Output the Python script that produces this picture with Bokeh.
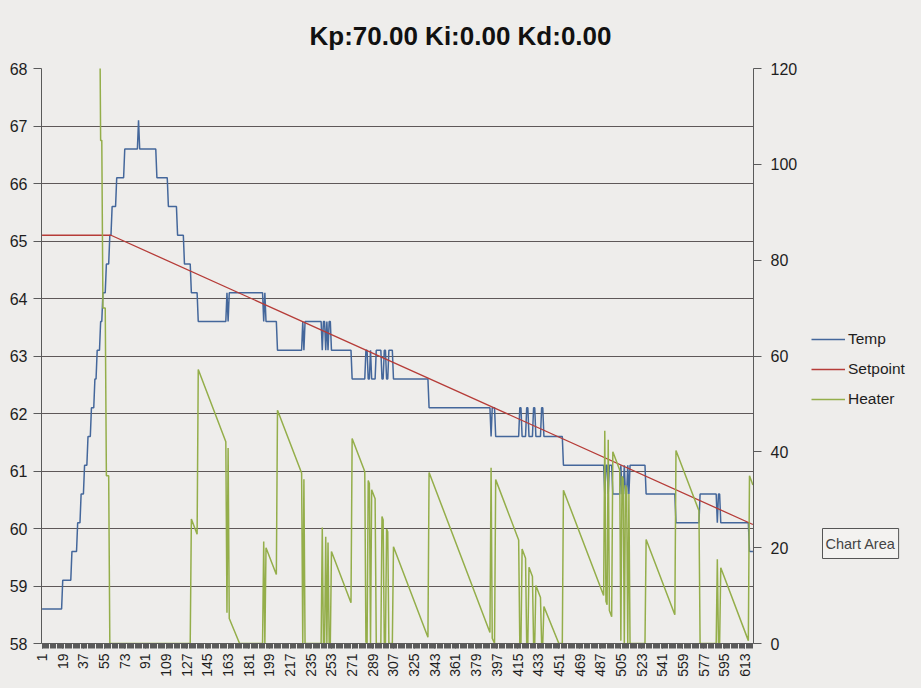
import math
from bokeh.plotting import figure
from bokeh.layouts import row
from bokeh.models import (Range1d, LinearAxis, FixedTicker, Legend, LegendItem,
                          Label, Title)
from bokeh.embed import file_html
from bokeh.resources import INLINE

# ---------------- data ----------------
N_SAMPLES = 620

# Temp: run-length encoded (first sample index of each run, value of the run)
temp_run_start = [1, 19, 27, 32, 35, 38, 41, 44, 47, 49, 52, 54, 57, 60, 62, 66, 73, 85, 86, 101,
                  111, 119, 125, 131, 137, 162, 163, 164, 194, 195, 196, 206, 228, 229, 230, 245, 246, 248, 249, 250,
                  251, 253, 271, 283, 285, 287, 288, 292, 297, 299, 301, 303, 307, 338, 392, 393, 396, 417, 419, 423,
                  425, 429, 431, 436, 438, 455, 491, 492, 494, 495, 498, 505, 506, 508, 509, 511, 512, 513, 527, 553,
                  574, 589, 590, 592, 617]
temp_run_value = [58.6, 59.1, 59.6, 60.1, 60.6, 61.1, 61.6, 62.1, 62.6, 63.1, 63.6, 64.1, 64.6, 65.1, 65.6, 66.1, 66.6, 67.1, 66.6, 66.1,
                  65.6, 65.1, 64.6, 64.1, 63.6, 64.1, 63.6, 64.1, 63.6, 64.1, 63.6, 63.1, 63.6, 63.1, 63.6, 63.1, 63.6, 63.1, 63.6, 63.1,
                  63.6, 63.1, 62.6, 63.1, 62.6, 63.1, 62.6, 63.1, 62.6, 63.1, 62.6, 63.1, 62.6, 62.1, 61.6, 62.1, 61.6, 62.1, 61.6, 62.1,
                  61.6, 62.1, 61.6, 62.1, 61.6, 61.1, 60.6, 61.1, 60.6, 61.1, 60.6, 61.1, 60.6, 61.1, 60.6, 61.1, 60.6, 61.1, 60.6, 60.1,
                  60.6, 60.1, 60.6, 60.1, 59.6]

# Setpoint: polyline vertices
setpoint_x = [1, 61, 620]
setpoint_y = [65.1, 65.1, 60.07]

# Heater (secondary axis): polyline vertices
heater_x = [1, 18, 19, 26, 27, 31, 32, 34, 35, 37,
            38, 40, 41, 43, 44, 46, 47, 48, 49, 51,
            52, 53, 54, 56, 57, 59, 60, 130, 131, 136,
            137, 161, 162, 163, 164, 173, 193, 194, 195, 196,
            205, 206, 227, 228, 229, 230, 244, 245, 246, 247,
            248, 249, 250, 251, 252, 253, 270, 271, 282, 283,
            284, 285, 286, 287, 288, 291, 292, 296, 297, 298,
            299, 300, 301, 302, 303, 306, 307, 337, 338, 391,
            392, 393, 395, 396, 416, 417, 418, 419, 422, 423,
            424, 425, 428, 429, 430, 431, 435, 436, 437, 438,
            451, 454, 455, 490, 491, 492, 493, 494, 495, 497,
            498, 504, 505, 506, 507, 508, 509, 510, 511, 512,
            513, 526, 527, 552, 553, 573, 574, 588, 589, 590,
            591, 592, 616, 617, 620]
heater_y = [455, 455, 420, 420, 385, 385, 350, 350, 315, 315,
            280, 280, 245, 245, 210, 210, 175, 175, 140, 140,
            105, 105, 70, 70, 35, 35, 0, 0, 26.0, 22.8,
            57.2, 42.1, 6.4, 40.8, 5.2, 0, 0, 21.3, 0, 20.0,
            14.4, 48.7, 35.6, 0, 34.3, 0, 0, 24.2, 0, 0,
            22.3, 0, 21.1, 0, 0, 19.2, 8.5, 42.8, 35.9, 0.3,
            0, 34.0, 33.4, 0, 32.1, 30.2, 0, 0, 26.5, 25.8,
            0, 0, 23.9, 23.3, 0, 0, 20.2, 1.3, 35.7, 2.3,
            36.7, 1.1, 0, 34.2, 21.6, 0, 0, 19.7, 17.8, 0,
            0, 15.9, 14.0, 0, 0, 12.1, 9.6, 0, 0, 7.7,
            0, 0, 32.0, 10.0, 44.4, 8.8, 8.1, 42.5, 6.9, 5.6,
            40.0, 36.2, 0.6, 34.9, 34.3, 0, 33.0, 32.4, 0, 31.2,
            0, 0, 21.7, 6.0, 40.3, 27.7, 0, 0, 17.6, 0,
            0, 15.8, 0.6, 35.0, 33.1]

x_tick_labels = [1, 19, 37, 55, 73, 91, 109, 127, 145, 163, 181, 199, 217, 235, 253, 271, 289, 307,
                 325, 343, 361, 379, 397, 415, 433, 451, 469, 487, 505, 523, 541, 559, 577, 595, 613]
left_ticks = [58, 59, 60, 61, 62, 63, 64, 65, 66, 67, 68]
right_ticks = [0, 20, 40, 60, 80, 100, 120]

title_text = "Kp:70.00 Ki:0.00 Kd:0.00"
series_names = ["Temp", "Setpoint", "Heater"]
tooltip_text = "Chart Area"

# decode the run-length temp series into one value per sample
samples = list(range(1, N_SAMPLES + 1))
temp = []
run = 0
for s in samples:
    while run + 1 < len(temp_run_start) and temp_run_start[run + 1] <= s:
        run += 1
    temp.append(temp_run_value[run])

# ---------------- styling ----------------
BG = "#eeedeb"
AXC = "#5a5a5a"
GRIDC = "#5e5858"
FONT = "Liberation Sans"
C_TEMP = "#44679b"
C_SP = "#b63c38"
C_HEAT = "#94ae4a"
H = 688

p = figure(width=800, height=H, output_backend="svg", toolbar_location=None,
           x_range=Range1d(0.5, N_SAMPLES + 0.5), y_range=Range1d(58, 68),
           min_border_left=41, min_border_right=46, min_border_top=68, min_border_bottom=45,
           background_fill_color=BG, border_fill_color=BG, outline_line_color=None)
p.extra_y_ranges = {"heater": Range1d(0, 120)}

# x axis
xa = p.xaxis[0]
xa.ticker = FixedTicker(ticks=x_tick_labels, minor_ticks=samples)
xa.major_label_orientation = math.pi / 2
xa.major_tick_out = 5
xa.major_tick_in = 0
xa.minor_tick_out = 5
xa.minor_tick_in = 0
xa.axis_line_color = AXC
xa.major_tick_line_color = AXC
xa.minor_tick_line_color = AXC
xa.major_label_text_font = FONT
xa.major_label_text_font_size = "14px"
xa.major_label_text_color = "#1e1e1e"
xa.major_label_standoff = 5
p.xgrid.visible = False

# left axis
ya = p.yaxis[0]
ya.ticker = FixedTicker(ticks=left_ticks)
ya.major_tick_out = 8
ya.major_tick_in = 0
ya.minor_tick_line_color = None
ya.axis_line_color = AXC
ya.major_tick_line_color = AXC
ya.major_label_text_font = FONT
ya.major_label_text_font_size = "16px"
ya.major_label_text_color = "#1e1e1e"
ya.major_label_standoff = 6
p.ygrid.ticker = FixedTicker(ticks=left_ticks)
p.ygrid.grid_line_color = GRIDC
p.ygrid.grid_line_width = 1

# right axis
ra = LinearAxis(y_range_name="heater", ticker=FixedTicker(ticks=right_ticks))
ra.major_tick_out = 8
ra.major_tick_in = 0
ra.minor_tick_line_color = None
ra.axis_line_color = AXC
ra.major_tick_line_color = AXC
ra.major_label_text_font = FONT
ra.major_label_text_font_size = "16px"
ra.major_label_text_color = "#1e1e1e"
ra.major_label_standoff = 9
p.add_layout(ra, "right")

# series
r_temp = p.line(samples, temp, line_color=C_TEMP, line_width=1.5)
r_sp = p.line(setpoint_x, setpoint_y, line_color=C_SP, line_width=1.3)
r_heat = p.line(heater_x, heater_y, line_color=C_HEAT, line_width=1.5, y_range_name="heater")

# title
p.add_layout(Title(text=title_text, align="left", offset=268, text_font=FONT,
                   text_font_size="26px", text_font_style="bold", text_color="#111111",
                   standoff=36), "above")

# ---------------- side strip: legend + "Chart Area" tooltip ----------------
q = figure(width=121, height=H, output_backend="svg", toolbar_location=None,
           x_range=Range1d(0, 1), y_range=Range1d(0, 1),
           x_axis_location=None, y_axis_location=None,
           min_border_left=0, min_border_right=0, min_border_top=0, min_border_bottom=0,
           background_fill_color=BG, border_fill_color=BG, outline_line_color=None)
q.grid.visible = False
# legend proxies: the same series, drawn outside this strip's (0..1) ranges
k_temp = q.line(samples, temp, line_color=C_TEMP, line_width=1.5)
k_sp = q.line(setpoint_x, setpoint_y, line_color=C_SP, line_width=1.3)
k_heat = q.line(heater_x, heater_y, line_color=C_HEAT, line_width=1.5)

legend = Legend(items=[LegendItem(label=series_names[0], renderers=[k_temp]),
                       LegendItem(label=series_names[1], renderers=[k_sp]),
                       LegendItem(label=series_names[2], renderers=[k_heat])],
                location=(11, 234), orientation="vertical",
                glyph_width=34, glyph_height=20, label_height=20, spacing=10,
                padding=0, margin=0, label_standoff=3,
                border_line_color=None, background_fill_alpha=0,
                label_text_font=FONT, label_text_font_size="15.5px", label_text_color="#1e1e1e")
q.add_layout(legend)

q.add_layout(Label(x=24, y=83, x_units="screen", y_units="screen", text=tooltip_text,
                   text_font=FONT, text_font_size="14.5px", text_color="#444444",
                   background_fill_color="#7a7a7a", background_fill_alpha=0.6,
                   border_line_color=None, padding=(3, 7), text_alpha=0))
q.add_layout(Label(x=22, y=85, x_units="screen", y_units="screen", text=tooltip_text,
                   text_font=FONT, text_font_size="14.5px", text_color="#444444",
                   background_fill_color="#f3f2f0", border_line_color="#555555",
                   padding=(3, 7)))

layout = row(p, q, spacing=0)
layout.styles = {"background-color": BG}
open("out.html", "w").write(file_html(layout, INLINE))
